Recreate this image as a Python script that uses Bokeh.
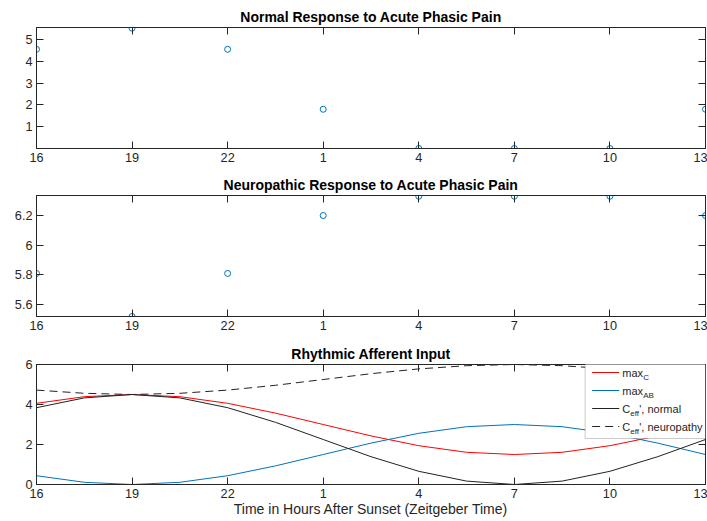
from bokeh.plotting import figure
from bokeh.models import LinearAxis, Range1d, FixedTicker, BoxAnnotation, Label, Arrow
from bokeh.layouts import column
from bokeh.embed import file_html
from bokeh.resources import INLINE

# ---- data ----
hours_points = [16, 19, 22, 25, 28, 31, 34, 37]
tick_labels = ["16", "19", "22", "1", "4", "7", "10", "13"]
normal_response = [4.55, 5.52, 4.55, 1.8, 0.0, 0.0, 0.0, 1.8]
neuro_response = [5.81, 5.52, 5.81, 6.2, 6.33, 6.33, 6.33, 6.2]

hours_curve = [16, 17.5, 19, 20.5, 22, 23.5, 25, 26.5, 28, 29.5, 31, 32.5, 34, 35.5, 37]
max_c = [4.06, 4.39, 4.5, 4.39, 4.06, 3.57, 3.0, 2.43, 1.94, 1.61, 1.5, 1.61, 1.94, 2.43, 3.0]
max_ab = [0.44, 0.11, 0.0, 0.11, 0.44, 0.93, 1.5, 2.07, 2.56, 2.89, 3.0, 2.89, 2.56, 2.07, 1.5]
ceff_normal = [3.84, 4.33, 4.5, 4.33, 3.84, 3.11, 2.25, 1.39, 0.66, 0.17, 0.0, 0.17, 0.66, 1.39, 2.25]
ceff_neuro = [4.72, 4.56, 4.5, 4.56, 4.72, 4.96, 5.25, 5.54, 5.78, 5.94, 6.0, 5.94, 5.78, 5.54, 5.25]

y1_ticks = [1, 2, 3, 4, 5]
y2_ticks = [5.6, 5.8, 6.0, 6.2]
y3_ticks = [0, 2, 4, 6]

FONT = "Liberation Sans"
AX = "#262626"
BLUE = "#0072BD"
W = 707


def style_axis(ax, ticks, show_labels=True):
    ax.ticker = FixedTicker(ticks=ticks)
    ax.axis_line_color = AX
    ax.axis_line_width = 1
    ax.major_tick_line_color = AX
    ax.major_tick_in = 7
    ax.major_tick_out = 0
    ax.minor_tick_in = 0
    ax.minor_tick_out = 0
    ax.major_label_text_font = FONT
    ax.major_label_text_color = AX
    if show_labels:
        ax.major_label_text_font_size = "12.7px"
        ax.major_label_standoff = 4
    else:
        ax.major_label_text_font_size = "0px"
        ax.major_label_text_alpha = 0
        ax.major_label_standoff = 0


def make_fig(title, height, btop, bbottom, yrange, yticks):
    p = figure(width=W, height=height, x_range=Range1d(16, 37),
               y_range=Range1d(*yrange), output_backend="svg",
               toolbar_location=None, title=title,
               min_border_left=36, min_border_right=2,
               min_border_top=btop, min_border_bottom=bbottom)
    p.title.align = "center"
    p.title.text_font = FONT
    p.title.text_font_size = "14px"
    p.title.text_font_style = "bold"
    p.title.text_color = "black"
    p.title.standoff = 6
    p.xgrid.visible = False
    p.ygrid.visible = False
    p.outline_line_color = AX
    p.outline_line_width = 1
    bottom = p.below[0]
    style_axis(bottom, hours_points)
    bottom.major_label_overrides = {h: t for h, t in zip(hours_points, tick_labels)}
    style_axis(p.left[0], yticks)
    top = LinearAxis()
    style_axis(top, hours_points, show_labels=False)
    p.add_layout(top, "above")
    right = LinearAxis()
    style_axis(right, yticks, show_labels=False)
    p.add_layout(right, "right")
    p.background_fill_color = "white"
    p.border_fill_color = "white"
    return p, bottom


p1, b1 = make_fig("Normal Response to Acute Phasic Pain", 168, 27, 20, (0, 5.55), y1_ticks)
p1.scatter(hours_points, normal_response, marker="circle", size=6,
           fill_color=None, line_color=BLUE, line_width=1)

p2, b2 = make_fig("Neuropathic Response to Acute Phasic Pain", 169, 27, 21, (5.52, 6.335), y2_ticks)
p2.scatter(hours_points, neuro_response, marker="circle", size=6,
           fill_color=None, line_color=BLUE, line_width=1)

p3, b3 = make_fig("Rhythmic Afferent Input", 184, 27, 37, (0, 6), y3_ticks)
p3.line(hours_curve, max_c, line_color="#FF0000", line_width=1)
p3.line(hours_curve, max_ab, line_color=BLUE, line_width=1)
p3.line(hours_curve, ceff_normal, line_color="#222222", line_width=1)
p3.line(hours_curve, ceff_neuro, line_color="#222222", line_width=1, line_dash="8 5")
b3.axis_label = "Time in Hours After Sunset (Zeitgeber Time)"
b3.axis_label_text_font = FONT
b3.axis_label_text_font_size = "14px"
b3.axis_label_text_font_style = "normal"
b3.axis_label_text_color = AX
b3.axis_label_standoff = 0

# ---- legend (manual, to allow subscripts) ----
pxh = 667 / 21.0  # px per hour (approx)
pxy = 120 / 6.0   # px per unit
box_w = 120
box = BoxAnnotation(left=37 - box_w / pxh, right=37, top=6 + 3 / pxy, bottom=6 - 74 / pxy,
                    fill_color="white", fill_alpha=1.0, line_color=AX, line_width=0.8)
p3.add_layout(box)

rows = [8, 26, 44, 62]
sample_x0 = 37 - (box_w - 7) / pxh
sample_x1 = 37 - (box_w - 34) / pxh
text_x = 37 - (box_w - 37) / pxh
styles = [("#FF0000", "solid"), (BLUE, "solid"), ("#222222", "solid"), ("#222222", "8 5")]
for r, (col, dash) in zip(rows, styles):
    yy = 6 - r / pxy
    p3.add_layout(Arrow(end=None, x_start=sample_x0, x_end=sample_x1, y_start=yy, y_end=yy,
                        line_color=col, line_width=1, line_dash=dash))

legend_parts = [
    [("max", 0, 0, 11), ("C", 21, -5, 8)],
    [("max", 0, 0, 11), ("AB", 21, -5, 8)],
    [("C", 0, 0, 11), ("eff", 8, -5, 8), ("', normal", 17, 0, 11)],
    [("C", 0, 0, 11), ("eff", 8, -5, 8), ("', neuropathy", 17, 0, 11)],
]
for r, parts in zip(rows, legend_parts):
    yy = 6 - r / pxy
    for txt, dx, dy, fs in parts:
        p3.add_layout(Label(x=text_x, y=yy, x_offset=dx, y_offset=dy, text=txt,
                            text_font=FONT, text_font_size=f"{fs}px", text_color=AX,
                            text_baseline="middle", text_align="left"))

layout = column(p1, p2, p3, spacing=0)
open("out.html", "w").write(file_html(layout, INLINE))
